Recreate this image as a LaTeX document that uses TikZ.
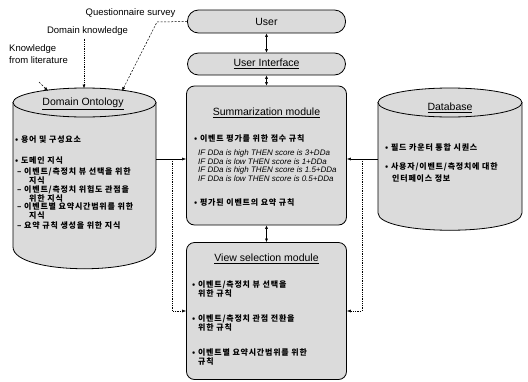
\documentclass[tikz,border=0pt]{standalone}
\usepackage{fontspec}
\setmainfont{Liberation Sans}
\newfontfamily\kr[LetterSpace=10]{Noto Sans CJK KR}
\usetikzlibrary{arrows.meta}
\tikzset{
  box/.style={draw=black, line width=0.8pt, fill=black!14},
  arr/.style={-{Latex[length=4pt,width=3pt]}, line width=0.5pt},
  darr/.style={{Latex[length=3.5pt,width=3pt]}-{Latex[length=3.5pt,width=3pt]}, line width=0.5pt},
  dsh/.style={dash pattern=on 2pt off 1.5pt, line width=0.5pt, -{Latex[length=4pt,width=3pt]}},
  dtt/.style={dash pattern=on 0.8pt off 1pt, line width=0.5pt, -{Latex[length=4pt,width=3pt]}},
  lbl/.style={font=\fontsize{9.5}{12}\selectfont, inner sep=0pt},
  ttl/.style={font=\fontsize{10.5}{12}\selectfont, inner sep=0pt},
  krt/.style={font=\kr\bfseries\fontsize{8}{9}\selectfont, inner sep=0pt, anchor=west},
  ift/.style={font=\fontsize{8}{8}\selectfont\itshape, inner sep=0pt, anchor=west},
}
\begin{document}
\begin{tikzpicture}[x=1pt,y=-1pt]
\path[use as bounding box] (0,0) rectangle (528,381);

% ---------- Domain Ontology cylinder
\draw[box] (13,102.5) -- (13,247) .. controls (13,276) and (156,276) .. (156,247) -- (156,102.5) -- cycle;
\draw[box] (84.5,102.5) ellipse [x radius=71.5pt, y radius=14.5pt];
\node[ttl] (dot) at (83,104) {\underline{Domain Ontology}};
\node[krt] (d1) at (15,140) {• 용어 및 구성요소};
\node[krt] (d2) at (15,161) {• 도메인 지식};
\node[krt] (d3) at (17,172) {– 이벤트/측정치 뷰 선택을 위한};
\node[krt] (d4) at (29,180.5) {지식};
\node[krt] (d5) at (17,190) {– 이벤트/측정치 위험도 관점을};
\node[krt] (d6) at (29,198.5) {위한 지식};
\node[krt] (d7) at (17,207) {– 이벤트별 요약시간범위를 위한};
\node[krt] (d8) at (29,215.5) {지식};
\node[krt] (d9) at (17,225) {– 요약 규칙 생성을 위한 지식};

% ---------- Database cylinder
\draw[box] (378,102.5) -- (378,213) .. controls (378,236) and (522,236) .. (522,213) -- (522,102.5) -- cycle;
\draw[box] (450,102.5) ellipse [x radius=72pt, y radius=14.5pt];
\node[ttl] (dbt) at (450,108) {\underline{Database}};
\node[krt] (b1) at (385,147) {• 필드 카운터 통합 시퀀스};
\node[krt] (b2) at (385,167) {• 사용자/이벤트/측정치에 대한};
\node[krt] (b3) at (392,179) {인터페이스 정보};

% ---------- central boxes
\node[box, rounded corners=11pt, minimum width=158pt, minimum height=23pt, inner sep=0pt, font=\fontsize{10.5}{12}\selectfont] (user) at (266.5,21.5) {User};
\node[box, rounded corners=11pt, minimum width=158pt, minimum height=22pt, inner sep=0pt, font=\fontsize{10.5}{12}\selectfont] (ui) at (266.5,64) {\underline{User Interface}};
\node[box, rounded corners=8pt, minimum width=160pt, minimum height=139pt, inner sep=0pt] (summ) at (266.5,155.5) {};
\node[box, rounded corners=8pt, minimum width=160pt, minimum height=137pt, inner sep=0pt] (view) at (266.5,311) {};

\node[ttl] (st) at (266.5,113) {\underline{Summarization module}};
\node[krt] (s1) at (194,138) {• 이벤트 평가를 위한 점수 규칙};
\node[ift] (s2) at (198,153) {IF DDa is high THEN score is 3+DDa};
\node[ift] (s3) at (198,161.5) {IF DDa is low THEN score is 1+DDa};
\node[ift] (s4) at (198,170) {IF DDa is high THEN score is 1.5+DDa};
\node[ift] (s5) at (198,178.5) {IF DDa is low THEN score is 0.5+DDa};
\node[krt] (s6) at (194,202) {• 평가된 이벤트의 요약 규칙};

\node[ttl] (vt) at (266.5,259) {\underline{View selection module}};
\node[krt] (v1) at (192,285) {• 이벤트/측정치 뷰 선택을};
\node[krt] (v2) at (198,293.5) {위한 규칙};
\node[krt] (v3) at (192,319) {• 이벤트/측정치 관점 전환을};
\node[krt] (v4) at (198,327.5) {위한 규칙};
\node[krt] (v5) at (192,353) {• 이벤트별 요약시간범위를 위한};
\node[krt] (v6) at (198,361.5) {규칙};

% ---------- vertical double arrows
\draw[darr] (user.south) -- (ui.north);
\draw[darr] (ui.south) -- (summ.north);
\draw[darr] (summ.south) -- (view.north);

% ---------- side connectors
\coordinate (dor) at (156,159);
\coordinate (brL) at (172,159);
\coordinate (dbl) at (378,159);
\coordinate (brR) at (362,159);
\draw[arr] (dor) -- (dor -| summ.west);
\draw[dtt] (brL) |- (view.west);
\draw[arr] (dbl) -- (dbl -| summ.east);
\draw[dtt] (brR) |- (view.east);

% ---------- inputs to Domain Ontology
\node[lbl] (qs) at (130.5,13) {Questionnaire survey};
\node[lbl] (dk) at (87.5,31) {Domain knowledge};
\node[lbl, align=left, anchor=north west] (kl) at (9,44) {Knowledge\\from literature};
\coordinate (qbend) at (157,22);
\coordinate (qend) at (122,91);
\coordinate (dkend) at (84,88.5);
\coordinate (klst) at (39,82);
\coordinate (klend) at (48,91);
\draw[dsh] (user.west) -- (qbend) -- (qend);
\draw[dtt] (dkend |- dk.south) ++(0,3) -- (dkend);
\draw[dsh] (klst) -- (klend);
\end{tikzpicture}
\end{document}
